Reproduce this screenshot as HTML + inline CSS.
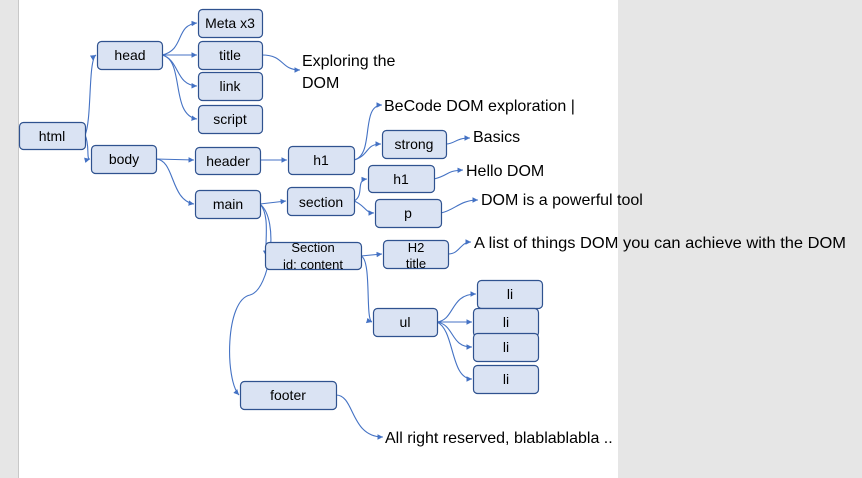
<!DOCTYPE html>
<html><head><meta charset="utf-8"><style>
body{margin:0;width:862px;height:478px;background:#e6e6e6;overflow:hidden}
svg{position:absolute;left:0;top:0}
text{font-family:"Liberation Sans",sans-serif}
</style></head><body>
<svg width="862" height="478" viewBox="0 0 862 478">
<defs><marker id="a" markerWidth="6" markerHeight="6" refX="5" refY="3" orient="auto"><path d="M0,0.5 L5,3 L0,5.5z" fill="#4472c4"/></marker></defs>
<rect x="18" y="0" width="600" height="478" fill="#fff"/>
<line x1="18.5" y1="0" x2="18.5" y2="478" stroke="#c8c8c8"/>
<g fill="none" stroke="#4472c4" stroke-width="1.1" marker-end="url(#a)">
<path d="M85,135 C92,120 88,60 96,55"/>
<path d="M85,135 C90,145 86,160 90,159"/>
<path d="M162,55 C185,50 175,25 197,23"/>
<path d="M162,55 L197,55"/>
<path d="M162,55 C180,60 175,85 197,86"/>
<path d="M162,55 C185,60 170,115 197,119"/>
<path d="M262,55 C285,55 280,70 300,70"/>
<path d="M156,159 L194,160"/>
<path d="M156,159 C175,160 170,200 194,204"/>
<path d="M260,160 L287,160"/>
<path d="M354,160 C375,155 360,105 382,105"/>
<path d="M354,160 C370,155 365,144 381,144"/>
<path d="M446,144 C455,144 455,138 470,138"/>
<path d="M260,204 L286,201"/>
<path d="M260,204 C270,215 265,240 266,256"/>
<path d="M260,204 C280,220 270,290 250,295 C225,300 225,380 239,395"/>
<path d="M354,201 C365,195 355,180 367,179"/>
<path d="M354,201 C365,205 365,213 374,213"/>
<path d="M434,179 C450,175 445,171 463,170"/>
<path d="M441,213 C455,210 460,200 478,200"/>
<path d="M361,256 L382,254"/>
<path d="M361,256 C372,260 365,320 372,322"/>
<path d="M448,254 C460,254 460,242 471,242"/>
<path d="M437,322 C455,320 450,294 476,294"/>
<path d="M437,322 L472,322"/>
<path d="M437,322 C455,325 450,347 472,347"/>
<path d="M437,322 C455,330 450,379 472,379"/>
<path d="M336,395 C355,395 350,437 383,437"/>
</g>
<g fill="#dae3f3" stroke="#2f528f" stroke-width="1.2">
<rect x="19.5" y="122.5" width="66" height="27" rx="4"/>
<rect x="97.5" y="41.5" width="65" height="28" rx="4"/>
<rect x="198.5" y="9.5" width="64" height="28" rx="4"/>
<rect x="198.5" y="41.5" width="64" height="28" rx="4"/>
<rect x="198.5" y="72.5" width="64" height="28" rx="4"/>
<rect x="198.5" y="105.5" width="64" height="28" rx="4"/>
<rect x="91.5" y="145.5" width="65" height="28" rx="4"/>
<rect x="195.5" y="147.5" width="65" height="27" rx="4"/>
<rect x="288.5" y="146.5" width="66" height="28" rx="4"/>
<rect x="382.5" y="130.5" width="64" height="28" rx="4"/>
<rect x="195.5" y="190.5" width="65" height="28" rx="4"/>
<rect x="287.5" y="187.5" width="67" height="28" rx="4"/>
<rect x="368.5" y="165.5" width="66" height="27" rx="4"/>
<rect x="375.5" y="199.5" width="66" height="28" rx="4"/>
<rect x="265.5" y="242.5" width="96" height="27" rx="4"/>
<rect x="383.5" y="240.5" width="65" height="28" rx="4"/>
<rect x="373.5" y="308.5" width="64" height="28" rx="4"/>
<rect x="477.5" y="280.5" width="65" height="28" rx="4"/>
<rect x="473.5" y="308.5" width="65" height="28" rx="4"/>
<rect x="473.5" y="333.5" width="65" height="28" rx="4"/>
<rect x="473.5" y="365.5" width="65" height="28" rx="4"/>
<rect x="240.5" y="381.5" width="96" height="28" rx="4"/>
</g>
<g font-size="14" fill="#000" text-anchor="middle">
<text x="52" y="141">html</text>
<text x="130" y="60">head</text>
<text x="230" y="28">Meta x3</text>
<text x="230" y="60">title</text>
<text x="230" y="91">link</text>
<text x="230" y="124">script</text>
<text x="124" y="164">body</text>
<text x="228" y="166">header</text>
<text x="321" y="165">h1</text>
<text x="414" y="149">strong</text>
<text x="228" y="209">main</text>
<text x="321" y="207">section</text>
<text x="401" y="184">h1</text>
<text x="408" y="218">p</text>
<text x="313" y="252" font-size="13">Section</text>
<text x="313" y="269" font-size="13">id: content</text>
<text x="416" y="252" font-size="13">H2</text>
<text x="416" y="268" font-size="13">title</text>
<text x="405" y="327">ul</text>
<text x="510" y="299">li</text>
<text x="506" y="327">li</text>
<text x="506" y="352">li</text>
<text x="506" y="384">li</text>
<text x="288" y="400">footer</text>
</g>
<g font-size="16" fill="#000">
<text x="302" y="66">Exploring the</text>
<text x="302" y="88">DOM</text>
<text x="384" y="111">BeCode DOM exploration |</text>
<text x="473" y="142">Basics</text>
<text x="466" y="176">Hello DOM</text>
<text x="481" y="205">DOM is a powerful tool</text>
<text x="474" y="248" textLength="372" lengthAdjust="spacingAndGlyphs">A list of things DOM you can achieve with the DOM</text>
<text x="385" y="443">All right reserved, blablablabla ..</text>
</g>
</svg>
</body></html>
